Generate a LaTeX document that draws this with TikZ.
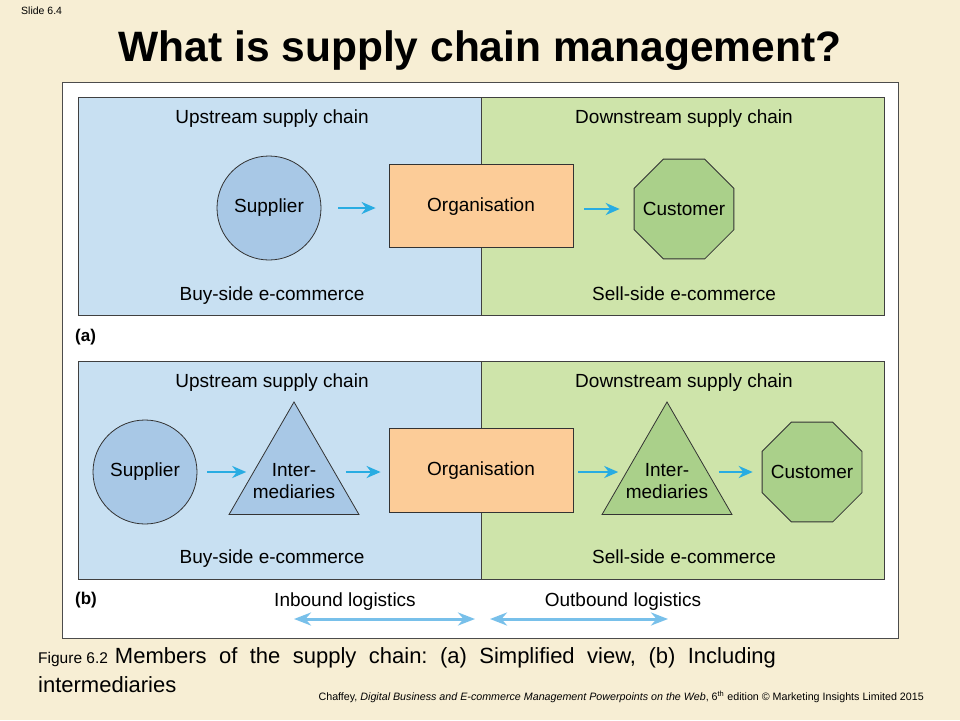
\documentclass[tikz,border=0pt]{standalone}
\usepackage{fontspec}
\setmainfont{Liberation Sans}
\usetikzlibrary{shapes.geometric,arrows.meta,positioning}
\frenchspacing

\definecolor{slidebg}{RGB}{247,238,212}
\definecolor{upblue}{RGB}{200,224,242}
\definecolor{downgreen}{RGB}{206,228,170}
\definecolor{supblue}{RGB}{168,200,230}
\definecolor{orgorange}{RGB}{252,204,152}
\definecolor{custgreen}{RGB}{170,208,138}
\definecolor{flowcyan}{RGB}{40,172,226}
\definecolor{logblue}{RGB}{120,192,234}

\tikzset{
 region/.style={draw=black!75, line width=0.8pt},
 member/.style={draw=black!80, line width=0.8pt, inner sep=0pt, align=center, font=\fontsize{19}{22}\selectfont},
 flow/.style={-{Stealth[length=14pt,width=12pt]}, line width=2.6pt, flowcyan},
 logistics/.style={{Stealth[length=17pt,width=13pt]}-{Stealth[length=17pt,width=13pt]}, line width=3pt, logblue},
 lbl/.style={font=\fontsize{19}{22}\selectfont, text height=13.5pt, text depth=4pt, yshift=-3pt},
 tag/.style={font=\fontsize{17}{20}\selectfont\bfseries, anchor=west, inner sep=0pt},
}

\begin{document}
\begin{tikzpicture}[x=1pt,y=-1pt]
 \fill[slidebg] (0,0) rectangle (960,720);
 \useasboundingbox (0,0) rectangle (960,720);
 \node[anchor=west, inner sep=0pt, font=\fontsize{10.5}{12}\selectfont] (slide) at (21,11) {Slide 6.4};
 \node[anchor=base, font=\fontsize{42.5}{50}\selectfont\bfseries] (title) at (480,61) {What is supply chain management?};
 %
 \draw[fill=white, draw=black!70, line width=0.8pt] (62,82) rectangle (898,638);
 %
 % (a) simplified view
 \draw[region, fill=upblue] (78,97) rectangle (481,315);
 \draw[region, fill=downgreen] (481,97) rectangle (884,315);
 \node[lbl] (upA) at (272,116) {Upstream supply chain};
 \node[lbl] (downA) at (684,116) {Downstream supply chain};
 \node[lbl] (buyA) at (272,293) {Buy-side e-commerce};
 \node[lbl] (sellA) at (684,293) {Sell-side e-commerce};
 \node[member, circle, fill=supblue, minimum size=104pt] (supA) at (269,208) {Supplier};
 \node[member, rectangle, fill=orgorange, minimum width=184pt, minimum height=83pt] (orgA) at (481,206) {};
 \node[member, draw=none] (orgAtext) at (481,207) {Organisation};
 \node[member, regular polygon, regular polygon sides=8, fill=custgreen, minimum size=108pt] (custA) at (684,209) {};
 \node[member, draw=none] (custAtext) at (684,209) {Customer};
 \draw[flow] ([xshift=17pt]supA.east) -- ([xshift=-13pt]orgA.west |- supA.east);
 \draw[flow] ([xshift=11pt]orgA.east |- custA.west) -- ([xshift=-14pt]custA.west);
 \node[tag] (tagA) at (75,337) {(a)};
 %
 % (b) including intermediaries
 \draw[region, fill=upblue] (78,361) rectangle (481,579);
 \draw[region, fill=downgreen] (481,361) rectangle (884,579);
 \node[lbl] (upB) at (272,380) {Upstream supply chain};
 \node[lbl] (downB) at (684,380) {Downstream supply chain};
 \node[lbl] (buyB) at (272,556) {Buy-side e-commerce};
 \node[lbl] (sellB) at (684,556) {Sell-side e-commerce};
 \node[member, circle, fill=supblue, minimum size=104pt] (supB) at (145,472) {Supplier};
 \node[member, regular polygon, regular polygon sides=3, fill=supblue, minimum size=150pt] (intB) at (294,477) {};
 \node[member, draw=none] (intBtext) at (294,481) {Inter-\\mediaries};
 \node[member, rectangle, fill=orgorange, minimum width=184pt, minimum height=84pt] (orgB) at (481,470) {};
 \node[member, draw=none] (orgBtext) at (481,471) {Organisation};
 \node[member, regular polygon, regular polygon sides=3, fill=custgreen, minimum size=150pt] (intC) at (667,477) {};
 \node[member, draw=none] (intCtext) at (667,481) {Inter-\\mediaries};
 \node[member, regular polygon, regular polygon sides=8, fill=custgreen, minimum size=108pt] (custB) at (812,472) {};
 \node[member, draw=none] (custBtext) at (812,472) {Customer};
 \draw[flow] ([xshift=10pt]supB.east) -- ([xshift=-4pt]intB.west |- supB.east);
 \draw[flow] ([xshift=8pt]intB.east |- supB.east) -- ([xshift=-8pt]orgB.west |- supB.east);
 \draw[flow] ([xshift=5pt]orgB.east |- custB.west) -- ([xshift=-5pt]intC.west |- custB.west);
 \draw[flow] ([xshift=8pt]intC.east |- custB.west) -- ([xshift=-9pt]custB.west);
 \node[tag] (tagB) at (75,600) {(b)};
 %
 % logistics
 \node[lbl] (inbound) at (345,599) {Inbound logistics};
 \node[lbl] (outbound) at (623,599) {Outbound logistics};
 \coordinate (inL) at (294,619);
 \coordinate (inR) at (475,619);
 \coordinate (outL) at (490,619);
 \coordinate (outR) at (668,619);
 \draw[logistics] (inL) -- (inR);
 \draw[logistics] (outL) -- (outR);
 %
 \node[anchor=base west, align=left, inner sep=0pt, font=\fontsize{22}{29}\selectfont] (caption) at (38,692)
   {{\fontsize{15.5}{18}\selectfont Figure 6.2}\hspace{7pt}\makebox[661pt][s]{Members of the supply chain: (a) Simplified view, (b) Including}\\intermediaries};
 \node[anchor=base east, inner sep=0pt, font=\fontsize{10.7}{12}\selectfont] (credit) at (924,700)
   {Chaffey, \textit{Digital Business and E-commerce Management Powerpoints on the Web}, 6\textsuperscript{th} edition \textcopyright\ Marketing Insights Limited 2015};
\end{tikzpicture}
\end{document}
